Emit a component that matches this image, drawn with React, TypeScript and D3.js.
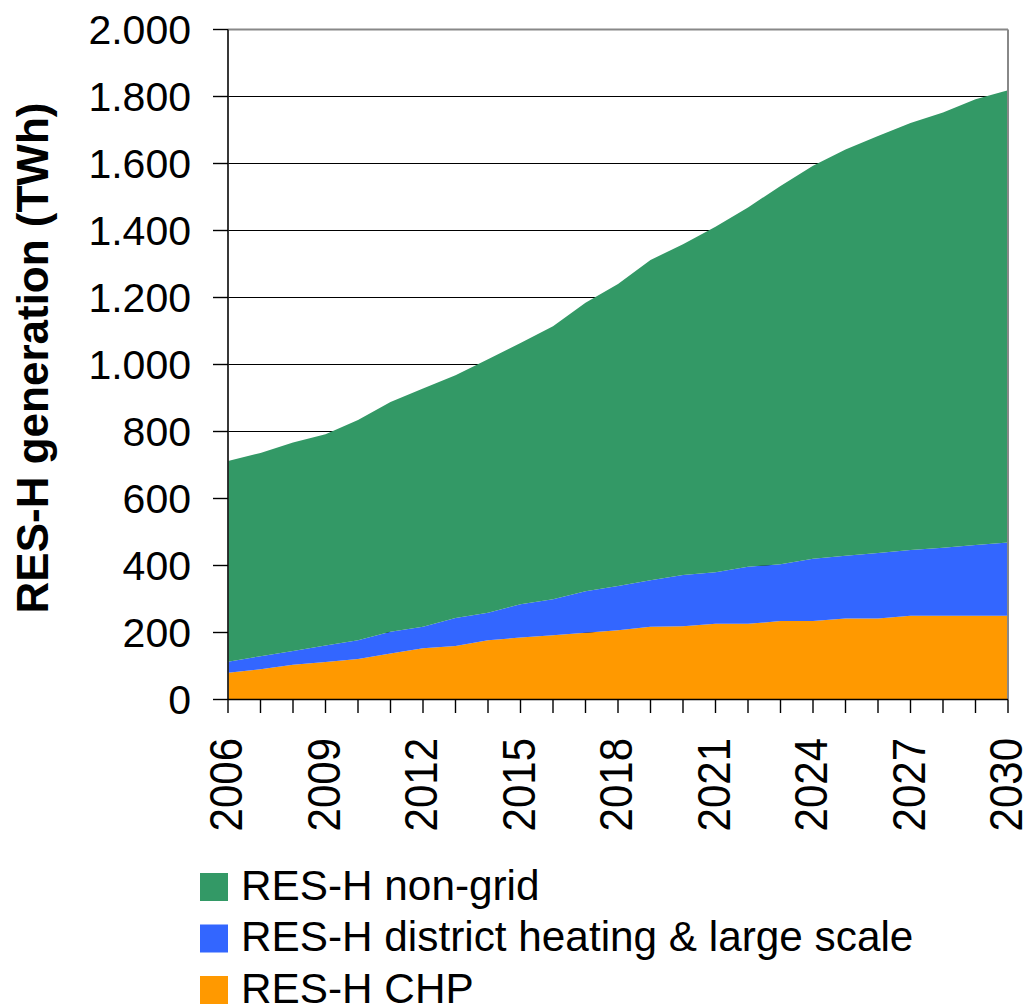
import React from "react";
import * as d3 from "d3";

const years = [2006,2007,2008,2009,2010,2011,2012,2013,2014,2015,2016,2017,2018,2019,2020,2021,2022,2023,2024,2025,2026,2027,2028,2029,2030];
const chp = [80,90,104,112,121,137,153,160,177,185,192,199,207,217,219,226,226,234,234,242,242,250,250,250,250];
const districtHeating = [33,39,41,49,56,65,64,83,82,99,107,124,132,139,153,154,170,170,186,187,195,196,203,211,219];
const nonGrid = [599,607,622,631,657,686,711,725,757,780,815,861,901,956,987,1031,1073,1129,1173,1213,1245,1275,1299,1331,1350];
const yTicks = [0,200,400,600,800,1000,1200,1400,1600,1800,2000];
const xLabelYears = [2006,2009,2012,2015,2018,2021,2024,2027,2030];
const seriesKeys = ["chp","dh","ng"];
const seriesNames: Record<string,string> = {
  ng: "RES-H non-grid",
  dh: "RES-H district heating & large scale",
  chp: "RES-H CHP",
};
const seriesColors: Record<string,string> = { ng: "#339966", dh: "#3366FF", chp: "#FF9900" };
const legendOrder = ["ng","dh","chp"];

const FONT = "'Liberation Sans', Arial, Helvetica, sans-serif";

export default function App() {
  const W = 1027, H = 1005;
  const x = d3.scaleLinear().domain([2006, 2030]).range([228, 1008]);
  const y = d3.scaleLinear().domain([0, 2000]).range([699.5, 29.5]);
  const table = years.map((yr, i) => ({ year: yr, chp: chp[i], dh: districtHeating[i], ng: nonGrid[i] }));
  const stack = d3.stack<any>().keys(seriesKeys)(table);
  const area = d3.area<any>().x((d) => x(d.data.year)).y0((d) => y(d[0])).y1((d) => y(d[1]));
  const locale = d3.formatLocale({ decimal: ",", thousands: ".", grouping: [3], currency: ["", "€"] });
  const fmt = locale.format(",d");

  return (
    <svg width={W} height={H} style={{ position: "absolute", left: 0, top: 0, background: "#fff" }} fontFamily={FONT}>
      <rect x={0} y={0} width={W} height={H} fill="#fff" />
      {yTicks.filter((t) => t > 0 && t < 2000).map((t) => (
        <line key={"g" + t} x1={228} x2={1008} y1={y(t)} y2={y(t)} stroke="#000" strokeWidth={1.2} />
      ))}
      {stack.map((s) => (
        <path key={s.key} d={area(s) || ""} fill={seriesColors[s.key]} />
      ))}
      <line x1={228} x2={1008} y1={29.5} y2={29.5} stroke="#888" strokeWidth={2} />
      <line x1={1008} x2={1008} y1={29.5} y2={699.5} stroke="#888" strokeWidth={2} />
      <line x1={228} x2={228} y1={29.5} y2={699.5} stroke="#222" strokeWidth={1.8} />
      <line x1={228} x2={1008} y1={699.5} y2={699.5} stroke="#000" strokeWidth={1.6} />
      {yTicks.map((t) => (
        <g key={"yt" + t}>
          <line x1={213} x2={228} y1={y(t)} y2={y(t)} stroke="#000" strokeWidth={1.4} />
          <text x={191} y={y(t) + 14.5} textAnchor="end" fontSize={41} fill="#000">{fmt(t)}</text>
        </g>
      ))}
      {years.map((yr) => (
        <line key={"xt" + yr} x1={x(yr)} x2={x(yr)} y1={699.5} y2={713} stroke="#000" strokeWidth={1.4} />
      ))}
      {xLabelYears.map((yr) => (
        <text key={"xl" + yr} transform={`translate(${x(yr) + 14},738) rotate(-90) scale(1,1.1)`} textAnchor="end" fontSize={42} fill="#000">{yr}</text>
      ))}
      <text transform="translate(48,358) rotate(-90)" textAnchor="middle" fontSize={44} fontWeight="bold" fill="#000">RES-H generation (TWh)</text>
      {legendOrder.map((k, i) => (
        <g key={"lg" + k}>
          <rect x={200} y={873 + i * 51.5} width={28} height={28} fill={seriesColors[k]} />
          <text x={241} y={899.5 + i * 51.5} fontSize={42.3} fill="#000">{seriesNames[k]}</text>
        </g>
      ))}
    </svg>
  );
}
